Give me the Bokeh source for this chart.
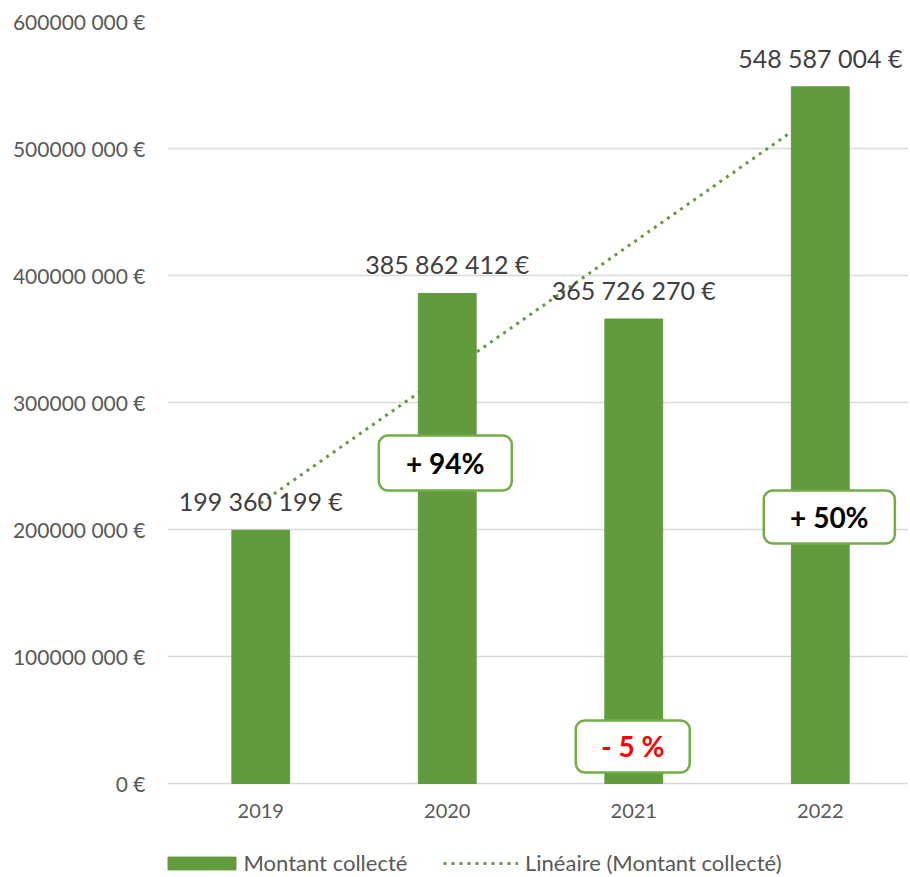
import numpy as np
from bokeh.plotting import figure
from bokeh.models import FixedTicker, Legend, LegendItem, ColumnDataSource
from bokeh.core.properties import value
from bokeh.embed import file_html
from bokeh.resources import INLINE

# ---- data ----
years = ["2019", "2020", "2021", "2022"]
amounts = [199360199, 385862412, 365726270, 548587004]
amount_labels = ["199 360 199 €", "385 862 412 €", "365 726 270 €", "548 587 004 €"]
y_ticks = [0, 100000000, 200000000, 300000000, 400000000, 500000000, 600000000]
y_tick_labels = ["0 €", "100000 000 €", "200000 000 €", "300000 000 €",
                 "400000 000 €", "500000 000 €", "600000 000 €"]
change_labels = ["+ 94%", "- 5 %", "+ 50%"]
change_years = ["2020", "2021", "2022"]

# ---- styles ----
BAR = "#629B3E"
BOX = "#70AD47"
FONT = "Lato"

xs = [i + 1 for i in range(len(years))]

# y range extends below 0 so that the x labels and legend sit inside the frame
p = figure(width=908, height=876, output_backend="svg", toolbar_location=None,
           x_range=(0.5, 4.473), y_range=(-73.23e6, 600e6),
           min_border_left=167, min_border_right=0, min_border_top=21, min_border_bottom=0)
p.outline_line_color = None
p.background_fill_color = "white"
p.border_fill_color = "white"

# axes
p.yaxis.ticker = FixedTicker(ticks=y_ticks)
p.yaxis.major_label_overrides = {t: l for t, l in zip(y_ticks, y_tick_labels)}
p.xaxis.ticker = FixedTicker(ticks=xs)
p.xaxis.major_label_overrides = {x: y for x, y in zip(xs, years)}
p.xaxis.fixed_location = 0
for ax in (p.xaxis[0], p.yaxis[0]):
    ax.axis_line_color = None
    ax.major_tick_line_color = None
    ax.minor_tick_line_color = None
    ax.major_tick_out = 0
    ax.major_tick_in = 0
    ax.major_label_text_font = FONT
    ax.major_label_text_color = "#595959"
p.yaxis.major_label_text_font_size = "21px"
p.yaxis.major_label_standoff = 22
p.xaxis.major_label_text_font_size = "20px"
p.xaxis.major_label_standoff = 21

p.xgrid.grid_line_color = None
p.ygrid.ticker = FixedTicker(ticks=y_ticks)
p.ygrid.grid_line_color = "#D9D9D9"
p.ygrid.grid_line_width = 1.5

# linear trendline (least squares, like Excel)
slope, intercept = np.polyfit(xs, amounts, 1)
tx = [xs[0], xs[-1]]
ty = [slope * x + intercept for x in tx]
trend = p.line(tx, ty, line_color=BAR, line_width=3, line_dash="3 5")

# bars
bars = p.vbar(x=xs, top=amounts, width=0.31, fill_color=BAR, line_color=BAR)

# value labels
p.text(x=xs, y=amounts, text=amount_labels, y_offset=-29,
       text_align="center", text_baseline="middle",
       text_font=value(FONT), text_font_size="25px", text_color="#404040")

# change boxes (positions relative to year centres)
box_dx = {"2020": (-0.367, 0.346), "2021": (-0.311, 0.300), "2022": (-0.303, 0.40)}
box_y = {"2020": (230.7e6, 274.0e6), "2021": (8.7e6, 49.6e6), "2022": (189.0e6, 230.7e6)}
text_colors = {"2020": "black", "2021": "#FF0000", "2022": "black"}
cx = [xs[years.index(y)] for y in change_years]
src = ColumnDataSource(dict(
    left=[c + box_dx[y][0] for c, y in zip(cx, change_years)],
    right=[c + box_dx[y][1] for c, y in zip(cx, change_years)],
    bottom=[box_y[y][0] for y in change_years],
    top=[box_y[y][1] for y in change_years],
    tx=[c + (box_dx[y][0] + box_dx[y][1]) / 2 for c, y in zip(cx, change_years)],
    ty=[(box_y[y][0] + box_y[y][1]) / 2 for y in change_years],
    label=change_labels,
    color=[text_colors[y] for y in change_years],
))
p.quad(left="left", right="right", bottom="bottom", top="top", source=src,
       fill_color="white", line_color=BOX, line_width=2.5, border_radius=9)
p.text(x="tx", y="ty", text="label", source=src, text_color="color",
       text_align="center", text_baseline="middle",
       text_font=value(FONT), text_font_style="bold", text_font_size="28px")

# legends (inside the frame, below the x labels)
def mk_legend(label, r, loc, gw, standoff):
    lg = Legend(items=[LegendItem(label=label, renderers=[r])], location=loc,
                orientation="horizontal", glyph_width=gw, glyph_height=16,
                padding=0, margin=0, spacing=0, label_standoff=standoff,
                label_text_font=FONT, label_text_font_size="22px",
                label_text_color="#595959", border_line_color=None,
                background_fill_alpha=0)
    p.add_layout(lg)

mk_legend("Montant collecté", bars, (-8.5, 0), 85, 0)
mk_legend("Linéaire (Montant collecté)", trend, (276, 0), 75, 7)

open("out.html", "w").write(file_html(p, INLINE))
